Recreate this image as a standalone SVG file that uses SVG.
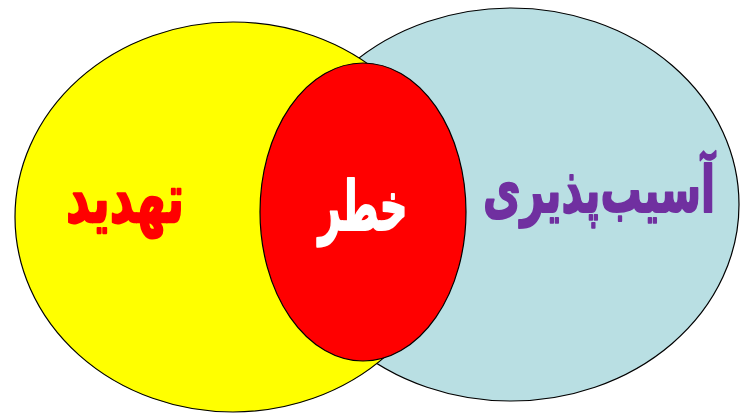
<svg xmlns="http://www.w3.org/2000/svg" width="740" height="414" viewBox="0 0 740 414">
<style>
.shape{stroke:#000;stroke-width:1.2}
.lbl{font-family:"DejaVu Sans",sans-serif;font-weight:bold;text-anchor:middle;direction:rtl;stroke-width:1.6;stroke-linejoin:round}
</style>
<rect width="740" height="414" fill="#fff"/>
<g id="vulnerability">
<ellipse class="shape" cx="511" cy="204.5" rx="228" ry="196.5" fill="#B9DFE3"/>
</g>
<g id="threat">
<ellipse class="shape" cx="233" cy="217" rx="218" ry="195" fill="#FFFF00"/>
</g>
<g id="risk">
<ellipse class="shape" cx="363" cy="212" rx="103" ry="149" fill="#FF0000"/>
</g>
<g id="labels">
<text class="lbl" transform="translate(125,222) scale(0.96,1.42)" x="0" y="0" font-size="48" fill="#FF0000" stroke="#FF0000">تهدید</text>
<text class="lbl" transform="translate(363,230) scale(0.74,1.32)" x="0" y="0" font-size="52" fill="#FFFFFF" stroke="#FFFFFF">خطر</text>
<text class="lbl" transform="translate(599,212) scale(0.82,1.28)" x="0" y="0" font-size="50" fill="#7030A0" stroke="#7030A0">آسیب‌پذیری</text>
</g>
<g id="connectors"></g>
</svg>
